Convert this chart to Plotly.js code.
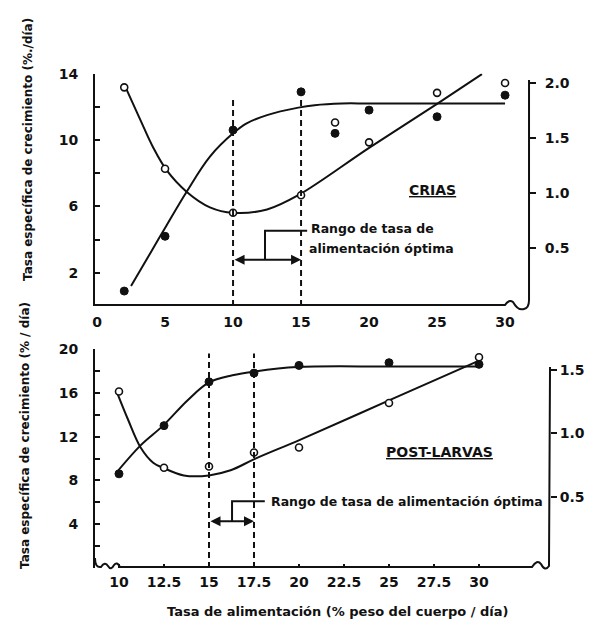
<!DOCTYPE html>
<html>
<head>
<meta charset="utf-8">
<script src="https://cdn.plot.ly/plotly-3.0.1.min.js"></script>
<style>html,body{margin:0;padding:0;background:#fff;}#chart{width:600px;height:626px;}</style>
</head>
<body>
<div id="chart"></div>
<script>
// ---------- DATA ----------
// CRIAS (top panel)
var topX        = [2, 5, 10, 15, 17.5, 20, 25, 30];
var topGrowth   = [0.9, 4.2, 10.6, 12.9, 10.4, 11.8, 11.4, 12.7];   // filled circles, left axis
var topConv     = [1.96, 1.22, 0.82, 0.98, 1.64, 1.46, 1.91, 2.0];  // open circles, right axis
var topGrowthFitX = [2.5, 4, 5, 6.6, 8.3, 10, 11, 12.5, 14.8, 16, 18, 20, 25, 30];
var topGrowthFitY = [1.2, 3.3, 4.7, 6.9, 9.0, 10.4, 11.0, 11.5, 11.95, 12.1, 12.2, 12.2, 12.2, 12.2];
var topConvFitX = [2.1, 3.2, 4.1, 5.1, 6.6, 8.3, 10, 12.5, 14.8, 20, 25, 28.3];
var topConvFitY = [1.96, 1.66, 1.42, 1.21, 1.01, 0.87, 0.82, 0.85, 0.98, 1.41, 1.81, 2.08];
var topOptimal  = [10, 15];
var topXTicks   = [0, 5, 10, 15, 20, 25, 30];
var topYTicks   = [2, 4, 6, 8, 10, 12, 14];
var topYLabels  = ['2', '', '6', '', '10', '', '14'];
var topY2Ticks  = [0.5, 1.0, 1.5, 2.0];
var topY2Labels = ['0.5', '1.0', '1.5', '2.0'];

// POST-LARVAS (bottom panel)
var botX        = [10, 12.5, 15, 17.5, 20, 25, 30];
var botGrowth   = [8.6, 13.0, 17.0, 17.8, 18.5, 18.75, 18.6];
var botConv     = [1.33, 0.73, 0.74, 0.85, 0.89, 1.24, 1.6];
var botGrowthFitX = [9.8, 11.2, 12.45, 13.8, 15, 16.3, 17.55, 19.9, 25, 30];
var botGrowthFitY = [8.6, 11.2, 13.0, 15.3, 16.95, 17.6, 17.95, 18.35, 18.4, 18.4];
var botConvFitX = [9.9, 10.5, 11.2, 11.9, 12.45, 13.6, 15, 16.2, 17.55, 20.05, 25, 30.1];
var botConvFitY = [1.32, 1.11, 0.89, 0.77, 0.73, 0.67, 0.67, 0.71, 0.80, 0.95, 1.26, 1.58];
var botOptimal  = [15, 17.5];
var botXTicks   = [10, 12.5, 15, 17.5, 20, 22.5, 25, 27.5, 30];
var botXLabels  = ['10', '12.5', '15', '17.5', '20', '22.5', '25', '27.5', '30'];
var botYTicks   = [2, 4, 6, 8, 10, 12, 14, 16, 18, 20];
var botYLabels  = ['', '4', '', '8', '', '12', '', '16', '', '20'];
var botY2Ticks  = [0.5, 1.0, 1.5];
var botY2Labels = ['0.5', '1.0', '1.5'];

// ---------- STYLE ----------
var W = 600, H = 626;
var FONT = 'DejaVu Sans';
var INK = '#111';
function fx(x){ return x / W; }
function fy(y){ return 1 - y / H; }
function P(x, y){ return fx(x).toFixed(4) + ',' + fy(y).toFixed(4); }

function pts(x, y, xa, ya, filled){
  return {x: x, y: y, xaxis: xa, yaxis: ya, type: 'scatter', mode: 'markers', hoverinfo: 'skip',
    marker: filled ? {color: INK, size: 8, line: {color: INK, width: 1}}
                   : {color: '#fff', size: 7, line: {color: INK, width: 1.6}}};
}
function fit(x, y, xa, ya){
  return {x: x, y: y, xaxis: xa, yaxis: ya, type: 'scatter', mode: 'lines', hoverinfo: 'skip',
    line: {color: INK, width: 2, shape: 'spline', smoothing: 1}};
}

var data = [
  fit(topGrowthFitX, topGrowthFitY, 'x', 'y'),
  fit(topConvFitX, topConvFitY, 'x', 'y2'),
  pts(topX, topGrowth, 'x', 'y', true),
  pts(topX, topConv, 'x', 'y2', false),
  fit(botGrowthFitX, botGrowthFitY, 'x2', 'y3'),
  fit(botConvFitX, botConvFitY, 'x2', 'y4'),
  pts(botX, botGrowth, 'x2', 'y3', true),
  pts(botX, botConv, 'x2', 'y4', false)
];

var tickFont = {family: FONT, size: 14, color: INK, weight: 'bold'};
var baseAxis = {showgrid: false, zeroline: false, fixedrange: true, tickfont: tickFont, tickcolor: INK, linecolor: INK, linewidth: 2};

function ax(o){ return Object.assign({}, baseAxis, o); }

var shapes = [];
function line(xref, yref, x0, y0, x1, y1, dash){
  shapes.push({type: 'line', xref: xref, yref: yref, x0: x0, y0: y0, x1: x1, y1: y1,
    line: {color: INK, width: 2, dash: dash || 'solid'}});
}
function path(d){
  shapes.push({type: 'path', xref: 'paper', yref: 'paper', path: d, line: {color: INK, width: 2}});
}

// top panel frame: bottom axis with break, right axis
path('M ' + P(95, 305) + ' L ' + P(505, 305) + ' Q ' + P(509, 299) + ' ' + P(513, 302) +
     ' Q ' + P(518, 311) + ' ' + P(524, 309) + ' Q ' + P(529, 308) + ' ' + P(529, 300) + ' L ' + P(529, 80));
// bottom panel frame
path('M ' + P(95, 558) + ' Q ' + P(95, 568) + ' ' + P(101, 567) + ' Q ' + P(105, 561) + ' ' + P(108, 566) +
     ' Q ' + P(111, 571) + ' ' + P(114, 565) + ' Q ' + P(117, 561) + ' ' + P(120, 567) + ' L ' + P(532, 567) +
     ' Q ' + P(537, 559) + ' ' + P(541, 564) + ' Q ' + P(545, 572) + ' ' + P(549, 566) + ' L ' + P(550, 367));

// optimal range dashed lines
line('x', 'y', topOptimal[0], 0, topOptimal[0], 12.5, '6px,4px');
line('x', 'y', topOptimal[1], 0, topOptimal[1], 12.7, '6px,4px');
line('x2', 'y3', botOptimal[0], 0, botOptimal[0], 19.6, '6px,4px');
line('x2', 'y3', botOptimal[1], 0, botOptimal[1], 19.6, '6px,4px');

// brackets leading to the label
shapes.push({type: 'path', xref: 'x', yref: 'y', path: 'M 12.35,2.78 L 12.35,4.53 L 15.45,4.53', line: {color: INK, width: 2}});
shapes.push({type: 'path', xref: 'x2', yref: 'y3', path: 'M 16.28,4.28 L 16.28,6.1 L 18.1,6.1', line: {color: INK, width: 2}});

var annFont = {family: FONT, size: 12.5, color: INK, weight: 'bold'};
var annotations = [
  {xref: 'x', yref: 'y', x: topOptimal[1], y: 2.78, ax: topOptimal[0], ay: 2.78, axref: 'x', ayref: 'y',
   text: '', showarrow: true, arrowside: 'end+start', arrowhead: 2, arrowsize: 1, arrowwidth: 2, arrowcolor: INK},
  {xref: 'x2', yref: 'y3', x: botOptimal[1], y: 4.28, ax: botOptimal[0], ay: 4.28, axref: 'x2', ayref: 'y3',
   text: '', showarrow: true, arrowside: 'end+start', arrowhead: 2, arrowsize: 1, arrowwidth: 2, arrowcolor: INK},
  {xref: 'paper', yref: 'paper', x: fx(309), y: fy(228), xanchor: 'left', yanchor: 'middle', showarrow: false,
   text: 'Rango de tasa de', font: annFont},
  {xref: 'paper', yref: 'paper', x: fx(307), y: fy(248), xanchor: 'left', yanchor: 'middle', showarrow: false,
   text: 'alimentación óptima', font: annFont},
  {xref: 'paper', yref: 'paper', x: fx(269), y: fy(501), xanchor: 'left', yanchor: 'middle', showarrow: false,
   text: 'Rango de tasa de alimentación óptima', font: annFont},
  {xref: 'paper', yref: 'paper', x: fx(432), y: fy(190), xanchor: 'center', yanchor: 'middle', showarrow: false,
   text: '<u>CRIAS</u>', font: {family: FONT, size: 14, color: INK, weight: 'bold'}},
  {xref: 'paper', yref: 'paper', x: fx(439), y: fy(452), xanchor: 'center', yanchor: 'middle', showarrow: false,
   text: '<u>POST-LARVAS</u>', font: {family: FONT, size: 14, color: INK, weight: 'bold'}},
  {xref: 'paper', yref: 'paper', x: fx(28), y: fy(150), xanchor: 'center', yanchor: 'middle', showarrow: false,
   textangle: -90, text: 'Tasa específica de crecimiento (%./día)', font: {family: FONT, size: 12, color: INK, weight: 'bold'}},
  {xref: 'paper', yref: 'paper', x: fx(25), y: fy(436), xanchor: 'center', yanchor: 'middle', showarrow: false,
   textangle: -90, text: 'Tasa específica de crecimiento (% / día)', font: {family: FONT, size: 12, color: INK, weight: 'bold'}},
  {xref: 'paper', yref: 'paper', x: fx(337), y: fy(611), xanchor: 'center', yanchor: 'middle', showarrow: false,
   text: 'Tasa de alimentación (% peso del cuerpo / día)', font: {family: FONT, size: 13, color: INK, weight: 'bold'}}
];

var layout = {
  width: W, height: H, margin: {l: 0, r: 0, t: 0, b: 0}, showlegend: false,
  paper_bgcolor: '#fff', plot_bgcolor: 'rgba(0,0,0,0)',
  xaxis: ax({domain: [fx(95), fx(529)], range: [-0.15, 31.76], anchor: 'y', showline: false,
    tickmode: 'array', tickvals: topXTicks, ticks: '', ticklabelstandoff: 6}),
  yaxis: ax({domain: [fy(306), fy(73.6)], range: [0, 14], anchor: 'x', showline: true,
    tickmode: 'array', tickvals: topYTicks, ticktext: topYLabels, ticks: 'inside', ticklen: 5, tickwidth: 2, ticklabelstandoff: 12}),
  yaxis2: ax({overlaying: 'y', side: 'right', anchor: 'x', range: [-0.027, 2.085], showline: false,
    tickmode: 'array', tickvals: topY2Ticks, ticktext: topY2Labels, ticks: 'outside', ticklen: 6, tickwidth: 2, ticklabelstandoff: 6}),
  xaxis2: ax({domain: [fx(95), fx(550)], range: [8.667, 33.944], anchor: 'y3', showline: false,
    tickmode: 'array', tickvals: botXTicks, ticktext: botXLabels, ticks: 'inside', ticklen: 4, tickwidth: 2, ticklabelstandoff: 4}),
  yaxis3: ax({domain: [fy(568), fy(349)], range: [0, 20], anchor: 'x2', showline: true,
    tickmode: 'array', tickvals: botYTicks, ticktext: botYLabels, ticks: 'inside', ticklen: 5, tickwidth: 2, ticklabelstandoff: 12}),
  yaxis4: ax({overlaying: 'y3', side: 'right', anchor: 'x2', range: [-0.059, 1.665], showline: false,
    tickmode: 'array', tickvals: botY2Ticks, ticktext: botY2Labels, ticks: 'outside', ticklen: 6, tickwidth: 2, ticklabelstandoff: 0}),
  shapes: shapes,
  annotations: annotations
};

Plotly.newPlot('chart', data, layout, {staticPlot: true, displayModeBar: false});
</script>
</body>
</html>
